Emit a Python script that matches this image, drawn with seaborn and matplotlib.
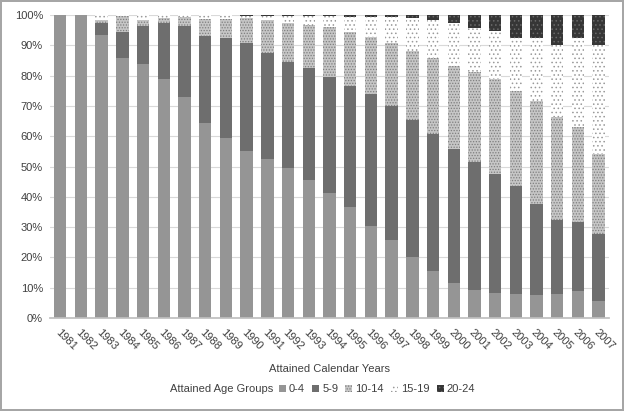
import matplotlib
matplotlib.use("Agg")
import matplotlib.pyplot as plt
import matplotlib.patches as mpatches
from matplotlib.ticker import PercentFormatter
import numpy as np
import pandas as pd
import seaborn as sns

# 各年度、各年齡組佔比（%）
years = [str(y) for y in range(1981, 2008)]
age_groups = ["0-4", "5-9", "10-14", "15-19", "20-24"]

share_0_4 = [100, 100, 93.4, 85.8, 83.8, 78.9, 73.0, 64.4, 59.4, 55.1, 52.5, 49.5, 45.5, 41.3,
             36.6, 30.4, 25.7, 20.1, 15.5, 11.5, 9.2, 8.2, 8.0, 7.7, 8.0, 9.0, 5.6]
share_5_9 = [0, 0, 3.9, 8.6, 12.6, 18.5, 23.4, 28.6, 33.0, 35.7, 35.0, 35.0, 37.0, 38.2,
             40.1, 43.5, 44.3, 45.2, 45.2, 44.2, 42.2, 39.3, 35.6, 29.9, 24.3, 22.6, 22.1]
share_10_14 = [0, 0, 1.0, 5.3, 1.9, 1.6, 2.9, 5.7, 6.3, 8.2, 10.8, 12.9, 14.2, 16.5,
               17.6, 18.9, 20.9, 22.9, 25.2, 27.6, 29.9, 31.4, 31.3, 34.0, 34.1, 31.5, 26.6]
share_15_19 = [0, 0, 1.7, 0.3, 1.7, 1.0, 0.7, 1.3, 1.3, 0.6, 1.3, 2.2, 2.9, 3.6,
               5.2, 6.7, 8.4, 10.8, 12.4, 14.2, 14.3, 15.9, 17.6, 20.9, 23.7, 29.2, 35.8]
share_20_24 = [0, 0, 0, 0, 0, 0, 0, 0, 0, 0.4, 0.4, 0.4, 0.4, 0.4,
               0.5, 0.5, 0.7, 1.0, 1.7, 2.5, 4.4, 5.2, 7.5, 7.5, 9.9, 7.7, 9.9]

FACE = ["#959595", "#6e6e6e", "#c6c6c6", "#ffffff", "#363636"]
HATCH = [None, None, "......", "....", "...."]
HATCH_COLOR = ["#959595", "#6e6e6e", "#7e7e7e", "#9a9a9a", "#6a6a6a"]

sns.set_theme(style="white")
plt.rcParams["font.family"] = ["Liberation Sans", "DejaVu Sans"]
plt.rcParams["hatch.linewidth"] = 0.6

shares = np.array([share_0_4, share_5_9, share_10_14, share_15_19, share_20_24])
cum = np.cumsum(shares, axis=0)
df = pd.DataFrame({"year": years})

fig = plt.figure(figsize=(6.24, 4.11), dpi=100, edgecolor="#a6a6a6", linewidth=1.5)
ax = fig.add_axes([0.080, 0.226, 0.896, 0.7375])

# 由上往下疊：先畫累計最高的，再逐層覆蓋
for i in reversed(range(len(age_groups))):
    df["top"] = np.minimum(cum[i], 100)
    sns.barplot(data=df, x="year", y="top", color=FACE[i], saturation=1, width=0.6,
                hatch=HATCH[i], edgecolor=HATCH_COLOR[i], linewidth=0, ax=ax)

ax.set_ylim(0, 100)
ax.set_yticks(range(0, 101, 10))
ax.yaxis.set_major_formatter(PercentFormatter(decimals=0))
ax.grid(axis="y", color="#d9d9d9", linewidth=0.8)
ax.set_axisbelow(True)
for s in ["left", "top", "right"]:
    ax.spines[s].set_visible(False)
ax.spines["bottom"].set_color("#bfbfbf")
ax.tick_params(axis="y", length=0, labelsize=8, colors="#404040", pad=5)
ax.tick_params(axis="x", length=0, labelsize=8, colors="#404040", pad=7)
plt.setp(ax.get_xticklabels(), rotation=-45, ha="left", rotation_mode="anchor")
ax.set_xlabel("Attained Calendar Years", fontsize=8, color="#404040", labelpad=8)
ax.set_ylabel("")

handles = [mpatches.Patch(facecolor=FACE[i], hatch=HATCH[i], edgecolor=HATCH_COLOR[i],
                          linewidth=0, label=age_groups[i]) for i in range(len(age_groups))]
fig.text(170 / 624, 1 - 389 / 411, "Attained Age Groups", fontsize=8, color="#404040",
         va="center", ha="left")
fig.legend(handles=handles, loc="center left", bbox_to_anchor=(279 / 624, 1 - 389 / 411),
           ncol=5, frameon=False, fontsize=8, borderpad=0, borderaxespad=0,
           handlelength=0.6, handleheight=0.6, handletextpad=0.3, columnspacing=0.65,
           labelcolor="#404040")

fig.savefig("out.png", dpi=100)
